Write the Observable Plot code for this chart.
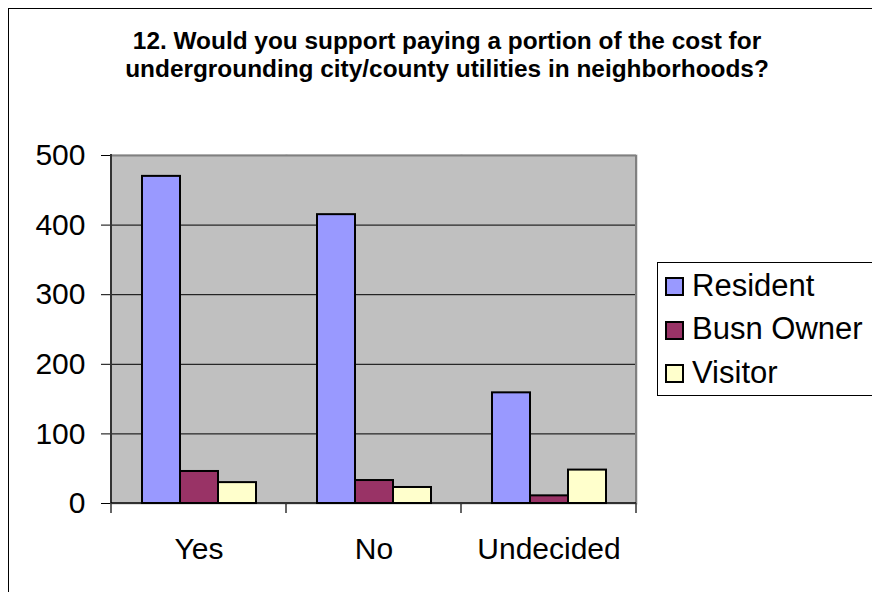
<!DOCTYPE html>
<html>
<head>
<meta charset="utf-8">
<script src="https://cdn.jsdelivr.net/npm/d3@7"></script>
<script src="https://cdn.jsdelivr.net/npm/@observablehq/plot@0.6"></script>
<style>
  html, body { margin: 0; padding: 0; background: #fff; overflow: hidden; }
  #wrap { position: relative; width: 872px; height: 592px; overflow: hidden; font-family: "Liberation Sans", Arial, sans-serif; }
  #border { position: absolute; left: 8px; top: 8px; width: 900px; height: 600px; border: 1px solid #000; pointer-events: none; }
  #title { position: absolute; left: 11px; top: 27px; width: 872px; text-align: center; font-weight: bold; font-size: 24.4px; line-height: 28px; color: #000; }
  #legend { position: absolute; left: 657px; top: 262px; width: 260px; height: 132px; border: 1px solid #000; background: #fff; }
  .sw { position: absolute; width: 15px; height: 15px; border: 2px solid #000; }
  .lt { position: absolute; font-size: 31px; line-height: 31px; color: #000; white-space: nowrap; }
  #chart { position: absolute; left: 0; top: 0; }
</style>
</head>
<body>
<div id="wrap">
  <div id="chart"></div>
  <div id="title">12. Would you support paying a portion of the cost for<br>undergrounding city/county utilities in neighborhoods?</div>
  <div id="legend"></div>
  <div id="border"></div>
</div>
<script>
const categories = ["Yes", "No", "Undecided"];
const series = ["Resident", "Busn Owner", "Visitor"];
const resident = [470, 415, 159];
const busnOwner = [46, 33, 11];
const visitor = [30, 23, 48];
const seriesColors = ["#9999FF", "#993366", "#FFFFCC"];
const gridValues = [100, 200, 300, 400];
const yMax = 500;

const valuesBySeries = [resident, busnOwner, visitor];
const rows = categories.flatMap((c, i) =>
  series.map((s, j) => ({cat: c, series: s, value: valuesBySeries[j][i]}))
);

const chart = Plot.plot({
  width: 872,
  height: 592,
  marginTop: 155,
  marginBottom: 89,
  marginLeft: 111,
  marginRight: 236,
  style: {background: "transparent", fontFamily: "'Liberation Sans', Arial, sans-serif", fontSize: "30px", color: "#000"},
  fx: {domain: categories, padding: 0, label: null, axis: "bottom", tickSize: 0, tickPadding: 34},
  x: {domain: series, paddingInner: 0, paddingOuter: 0.745, axis: null},
  y: {domain: [0, yMax], ticks: 5, tickSize: 10, tickPadding: 16, label: null},
  color: {domain: series, range: seriesColors},
  marks: [
    Plot.frame({fill: "#C0C0C0", stroke: "#C0C0C0", strokeWidth: 2}),
    Plot.ruleY(gridValues, {stroke: "#000", strokeWidth: 1}),
    Plot.ruleY([yMax], {stroke: "#808080", strokeWidth: 2}),
    Plot.barY(rows, {fx: "cat", x: "series", y: "value", fill: "series", stroke: "#000", strokeWidth: 2})
  ]
});
document.getElementById("chart").appendChild(chart);

// plot-area edges and category separator ticks, from Plot's own scales
const fx = chart.scale("fx");
const ys = chart.scale("y");
const fxBand = d3.scaleBand().domain(fx.domain).range(fx.range).paddingInner(0).paddingOuter(0);
const yLin = d3.scaleLinear().domain(ys.domain).range(ys.range);
const x0 = fxBand(categories[0]);
const x1 = fxBand(categories[categories.length - 1]) + fxBand.bandwidth();
const yb = yLin(0), yt = yLin(yMax);
const g = d3.select(chart).append("g");
g.append("line").attr("x1", x1).attr("x2", x1).attr("y1", yt).attr("y2", yb).attr("stroke", "#808080").attr("stroke-width", 2);
g.append("line").attr("x1", x0).attr("x2", x0).attr("y1", yt - 1).attr("y2", yb).attr("stroke", "#333").attr("stroke-width", 2);
g.append("line").attr("x1", x0).attr("x2", x1).attr("y1", yb).attr("y2", yb).attr("stroke", "#000").attr("stroke-width", 1.5);
const bounds = categories.map(c => fxBand(c)).concat([x1]);
g.selectAll("line.sep").data(bounds).join("line").attr("class", "sep")
  .attr("x1", d => d).attr("x2", d => d).attr("y1", yb).attr("y2", yb + 10)
  .attr("stroke", "#333").attr("stroke-width", 1.5);

// legend built from the color scale
const color = chart.scale("color");
const legend = document.getElementById("legend");
color.domain.forEach((s, i) => {
  const top = 14 + i * 43.7;
  const sw = document.createElement("div");
  sw.className = "sw";
  sw.style.left = "7px";
  sw.style.top = top + "px";
  sw.style.background = color.range[i];
  legend.appendChild(sw);
  const t = document.createElement("div");
  t.className = "lt";
  t.style.left = "34px";
  t.style.top = (top - 7.3) + "px";
  t.textContent = s;
  legend.appendChild(t);
});
</script>
</body>
</html>
